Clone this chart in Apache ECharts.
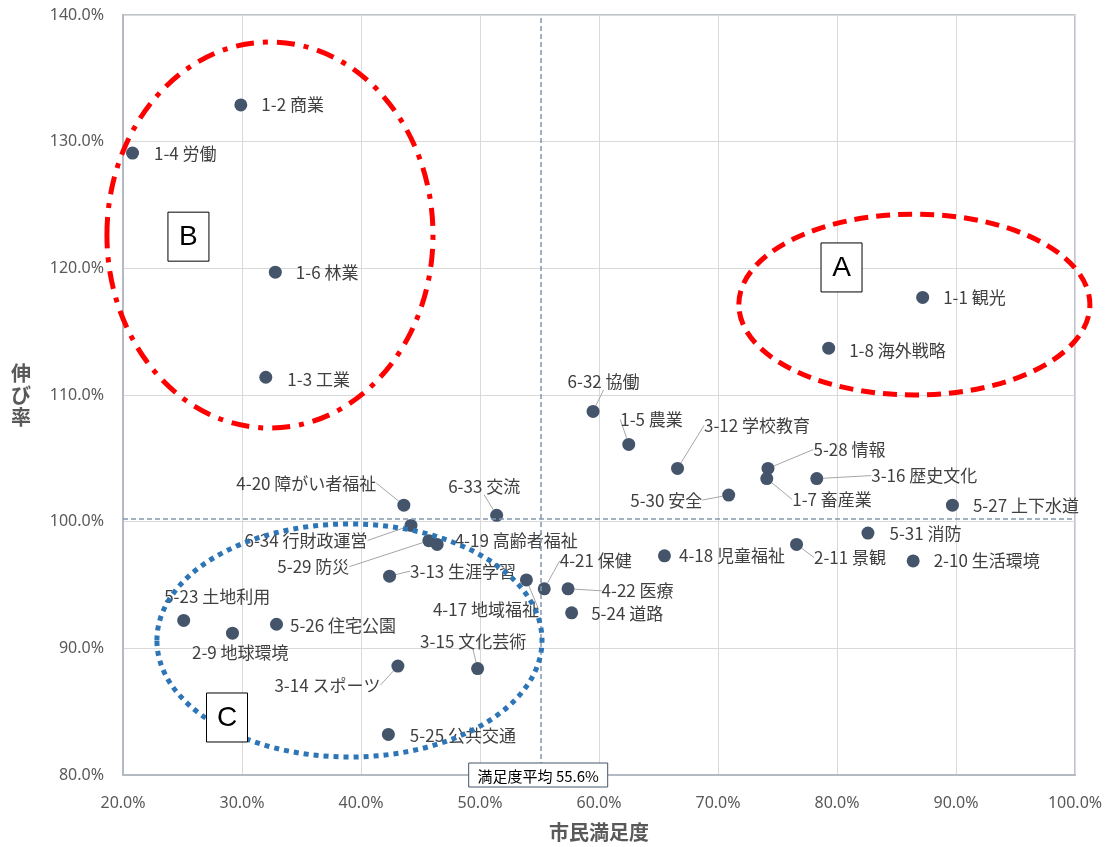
<!DOCTYPE html>
<html>
<head>
<meta charset="utf-8">
<script src="https://cdn.jsdelivr.net/npm/echarts@6/dist/echarts.min.js"></script>
<style>
html,body{margin:0;padding:0;background:#fff;}
#chart{width:1110px;height:847px;}
</style>
</head>
<body>
<div id="chart"></div>
<script>
// ---- data ----
const names = ['1-1 観光','1-8 海外戦略','1-2 商業','1-4 労働','1-6 林業','1-3 工業',
  '6-32 協働','1-5 農業','3-12 学校教育','5-28 情報','1-7 畜産業','3-16 歴史文化',
  '5-30 安全','5-27 上下水道','5-31 消防','4-18 児童福祉','2-11 景観','2-10 生活環境',
  '4-20 障がい者福祉','6-33 交流','6-34 行財政運営','5-29 防災','4-19 高齢者福祉','3-13 生涯学習',
  '4-17 地域福祉','4-21 保健','4-22 医療','5-24 道路','5-26 住宅公園','5-23 土地利用',
  '2-9 地球環境','3-14 スポーツ','3-15 文化芸術','5-25 公共交通'];
const satisfaction = [87.2,79.3,29.9,20.8,32.8,32.0,
  59.5,62.5,66.6,74.2,74.1,78.3,
  70.9,89.7,82.6,65.5,76.6,86.4,
  43.6,51.4,44.2,45.7,46.4,42.4,
  53.9,55.4,57.4,57.7,32.9,25.1,
  29.2,43.1,49.8,42.3];
const growth = [117.7,113.7,132.9,129.1,119.7,111.4,
  108.7,106.1,104.2,104.2,103.4,103.4,
  102.1,101.3,99.1,97.3,98.2,96.9,
  101.3,100.5,99.7,98.5,98.2,95.7,
  95.4,94.7,94.7,92.8,91.9,92.2,
  91.2,88.6,88.4,83.2];
const xTicks = {min:20, max:100, step:10};
const yTicks = {min:80, max:140, step:10};
const meanLineX = 55.1;   // drawn position of the satisfaction average line
const meanLineY = 100.2;  // drawn position of the growth average line
const meanLabel = '満足度平均 55.6%';
const groupLetters = ['A','B','C'];

// ---- label placement (layout only) ----
const labelShift = [[0,0],[0,2],[0,0],[1,0],[0,0],[1,2],
  [-46,-30],[-29,-25],[6,-43],[25,-19],[5,21],[34,-3],
  [-119,5],[0,0],[1,0],[-6,0],[-3,13],[0,0],
  [-188,-22],[-69,-29],[-187,15],[-172,26],[-3,-4],[0,-5],
  [-114,30],[-5,-28],[13,2],[-1,1],[-7,1],[-40,-24],
  [-61,19],[-144,19],[-78,-27],[1,1]];
const leader = [0,0,0,0,0,0, 1,1,1,1,1,1, 1,0,0,0,1,0, 1,1,1,1,0,1, 1,1,1,0,0,0, 0,1,1,0];

// group annotations in data units
const ellipses = [
  {cx:86.5, cy:117.14, rx:14.75, ry:7.14, color:'#ff0000', dash:[14,8]},
  {cx:32.35, cy:122.63, rx:13.7, ry:15.24, color:'#ff0000', dash:[18,9,5,9]},
  {cx:39.03, cy:90.62, rx:16.18, ry:9.2, color:'#2e75b6', dash:[5,5]}
];
const letterPos = [[80.38,120.07],[25.5,122.5],[28.74,84.54]];

const chart = echarts.init(document.getElementById('chart'));
const data = names.map((n,i)=>({
  name:n, value:[satisfaction[i], growth[i]],
  labelLine:{show: !!leader[i]}
}));
const tickFont = {color:'#595959', fontSize:16, fontFamily:'Noto Sans, sans-serif'};

chart.setOption({
  animation:false,
  grid:{left:123, top:15, right:35, bottom:72, show:true, borderColor:'#aab4c4', borderWidth:1.5,
    containLabel:false, outerBoundsMode:'none'},
  xAxis:{
    type:'value', min:xTicks.min, max:xTicks.max, interval:xTicks.step,
    name:'市民満足度', nameLocation:'middle', nameGap:47, nameMoveOverlap:false,
    nameTextStyle:{fontSize:20, fontWeight:'bold', color:'#595959', fontFamily:'Noto Sans CJK JP'},
    axisLine:{show:true, lineStyle:{color:'#b4b9c2', width:2}},
    axisTick:{show:false},
    axisLabel:Object.assign({margin:20, formatter:v=>v.toFixed(1)+'%'}, tickFont),
    splitLine:{show:true, lineStyle:{color:'#d9d9d9', width:1}}
  },
  yAxis:{
    type:'value', min:yTicks.min, max:yTicks.max, interval:yTicks.step,
    name:'伸\nび\n率', nameLocation:'middle', nameGap:92, nameRotate:0, nameMoveOverlap:false,
    nameTextStyle:{fontSize:20, fontWeight:'bold', color:'#595959', lineHeight:22, fontFamily:'Noto Sans CJK JP'},
    axisLine:{show:true, lineStyle:{color:'#b4b9c2', width:2}},
    axisTick:{show:false},
    axisLabel:Object.assign({margin:19, formatter:v=>v.toFixed(1)+'%'}, tickFont),
    splitLine:{show:true, lineStyle:{color:'#d9d9d9', width:1}}
  },
  series:[{
    type:'scatter',
    symbolSize:13,
    itemStyle:{color:'#44546a', opacity:1},
    data:data,
    label:{show:true, position:'right', distance:14, formatter:p=>p.name,
      color:'#404040', fontSize:17, fontFamily:'Noto Sans CJK JP'},
    labelLine:{show:true, lineStyle:{color:'#a6a6a6', width:1}},
    labelLayout:function(p){ const s = labelShift[p.dataIndex]; return {dx:s[0], dy:s[1]}; },
    markLine:{
      silent:true, symbol:'none', label:{show:false},
      lineStyle:{color:'#8497b0', type:[5,3], width:1.5},
      data:[{xAxis:meanLineX},{yAxis:meanLineY}]
    },
    z:3
  }]
});

// annotations positioned through the chart's own coordinate conversion
function px(x,y){ return chart.convertToPixel({gridIndex:0},[x,y]); }
const g = [];
ellipses.forEach(e=>{
  const c = px(e.cx, e.cy);
  const edge = px(e.cx+e.rx, e.cy-e.ry);
  g.push({type:'ellipse', z:10, silent:true,
    shape:{cx:c[0], cy:c[1], rx:edge[0]-c[0], ry:edge[1]-c[1]},
    style:{fill:null, stroke:e.color, lineWidth:5, lineDash:e.dash, lineCap:'butt'}});
});
letterPos.forEach((p,i)=>{
  const c = px(p[0],p[1]);
  g.push({type:'rect', z:11, silent:true, shape:{x:c[0]-20.5, y:c[1]-24.5, width:41, height:49},
    style:{fill:'#fff', stroke:'#000', lineWidth:1}});
  g.push({type:'text', z:12, silent:true, x:c[0], y:c[1]+1,
    style:{text:groupLetters[i], fill:'#000', font:'28px Liberation Sans, Arial, sans-serif', align:'center', verticalAlign:'middle'}});
});
const mp = px(meanLineX, yTicks.min);
g.push({type:'rect', z:11, silent:true, shape:{x:mp[0]-72, y:mp[1]-12, width:139, height:24},
  style:{fill:'#fff', stroke:'#44546a', lineWidth:1}});
g.push({type:'text', z:12, silent:true, x:mp[0]-2.5, y:mp[1]+1,
  style:{text:meanLabel, fill:'#000', font:'15px Noto Sans CJK JP', align:'center', verticalAlign:'middle'}});
chart.setOption({graphic:g});
</script>
</body>
</html>
